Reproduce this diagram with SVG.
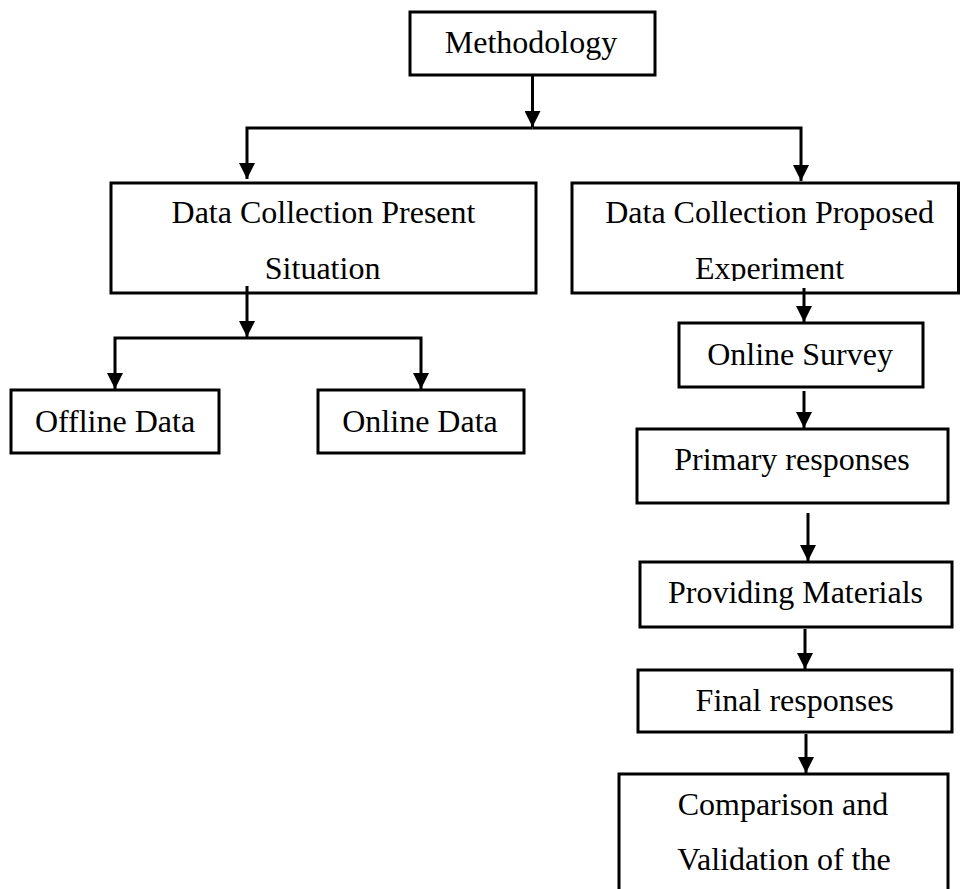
<svg xmlns="http://www.w3.org/2000/svg" width="960" height="889" viewBox="0 0 960 889">
<defs>
<marker id="arrow" viewBox="0 0 16 16" refX="16" refY="8" markerWidth="16" markerHeight="16" markerUnits="userSpaceOnUse" orient="auto">
<path d="M0,0 L16,8 L0,16 z" fill="#000"/>
</marker>
<clipPath id="clipTop"><rect x="0" y="0" width="960" height="281"/></clipPath>
<style>
.box{fill:#fff;stroke:#000;stroke-width:3}
.lbl{font-family:"Liberation Serif","Times New Roman",serif;font-size:32px;fill:#000;text-anchor:middle}
.conn{fill:none;stroke:#000;stroke-width:3;marker-end:url(#arrow)}
</style>
</defs>
<rect width="960" height="889" fill="#fff"/>
<g id="n-methodology"><rect class="box" x="410" y="12" width="245" height="63"/><text class="lbl" x="531" y="53">Methodology</text></g>
<g id="n-present"><rect class="box" x="111" y="183" width="425" height="110"/><g clip-path="url(#clipTop)"><text class="lbl" x="323.5" y="223">Data Collection Present</text><text class="lbl" x="322.6" y="278.5">Situation</text></g></g>
<g id="n-proposed"><rect class="box" x="572" y="183" width="386.5" height="110"/><g clip-path="url(#clipTop)"><text class="lbl" x="769.6" y="223">Data Collection Proposed</text><text class="lbl" x="769.6" y="278.5">Experiment</text></g></g>
<g id="n-offline"><rect class="box" x="11" y="390" width="208" height="63"/><text class="lbl" x="115" y="432">Offline Data</text></g>
<g id="n-online"><rect class="box" x="318" y="390" width="206" height="63"/><text class="lbl" x="420" y="432">Online Data</text></g>
<g id="n-survey"><rect class="box" x="679" y="323" width="244" height="64"/><text class="lbl" x="800" y="365">Online Survey</text></g>
<g id="n-primary"><rect class="box" x="637" y="429" width="311" height="74"/><text class="lbl" x="792" y="470">Primary responses</text></g>
<g id="n-materials"><rect class="box" x="640" y="562" width="312" height="65"/><text class="lbl" x="795.5" y="603">Providing Materials</text></g>
<g id="n-final"><rect class="box" x="638" y="670" width="314" height="62"/><text class="lbl" x="794.7" y="711">Final responses</text></g>
<g id="n-comparison"><rect class="box" x="619" y="774" width="329" height="140"/><text class="lbl" x="783" y="815">Comparison and</text><text class="lbl" x="784" y="869.5">Validation of the</text></g>
<g id="connectors">
<path class="conn" d="M532.5,75 V127"/>
<path class="conn" d="M532.5,128 H247 V179"/>
<path class="conn" d="M532.5,128 H801 V181"/>
<path class="conn" d="M247,286 V337"/>
<path class="conn" d="M247,338 H115 V389"/>
<path class="conn" d="M247,338 H421 V389"/>
<path class="conn" d="M804,288 V322"/>
<path class="conn" d="M804,391 V428"/>
<path class="conn" d="M808,513 V561"/>
<path class="conn" d="M805,629 V669"/>
<path class="conn" d="M806,734 V773"/>
</g>
</svg>
